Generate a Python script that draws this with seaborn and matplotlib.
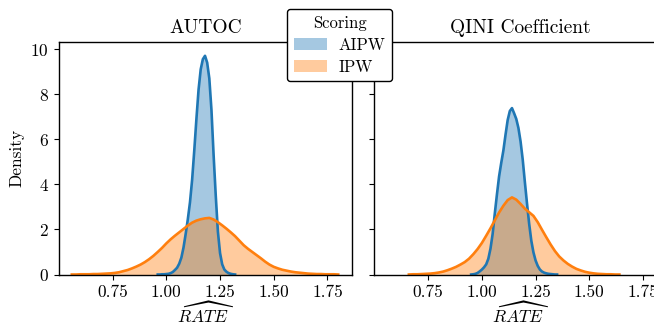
import numpy as np
import matplotlib
matplotlib.use("Agg")
import matplotlib.pyplot as plt
import seaborn as sns
from matplotlib.patches import Patch

plt.rcParams['font.family'] = ['cmr10', 'DejaVu Serif']
plt.rcParams['mathtext.fontset'] = 'cm'
plt.rcParams['axes.formatter.use_mathtext'] = True
plt.rcParams['font.size'] = 12.5

# ====================== DATA (density) ======================
panels = ['AUTOC', 'QINI Coefficient']
scorings = ['AIPW', 'IPW']

# AUTOC / AIPW, x from 0.96 to 1.32 step 0.01
autoc_aipw_start, autoc_aipw_step = 0.96, 0.01
autoc_aipw = [0.00, 0.00, 0.01, 0.01, 0.02, 0.03, 0.06, 0.11, 0.20, 0.30,
              0.48, 0.75, 1.20, 1.80, 2.45, 3.20, 4.20, 5.50, 6.90, 8.20,
              9.10, 9.55, 9.70, 9.40, 8.70, 7.30, 5.30, 3.50, 1.90, 0.95,
              0.45, 0.22, 0.12, 0.06, 0.03, 0.01, 0.00]

# AUTOC / IPW, x from 0.56 to 1.80 step 0.02
autoc_ipw_start, autoc_ipw_step = 0.56, 0.02
autoc_ipw = [0.00, 0.00, 0.01, 0.01, 0.01, 0.02, 0.02, 0.03, 0.04, 0.05,
             0.07, 0.10, 0.15, 0.20, 0.27, 0.35, 0.44, 0.55, 0.68, 0.83,
             1.00, 1.18, 1.38, 1.56, 1.72, 1.87, 2.02, 2.17, 2.30, 2.39,
             2.45, 2.49, 2.51, 2.44, 2.32, 2.18, 2.03, 1.87, 1.70, 1.50,
             1.30, 1.14, 1.00, 0.86, 0.72, 0.57, 0.44, 0.34, 0.27, 0.21,
             0.17, 0.13, 0.10, 0.08, 0.06, 0.04, 0.03, 0.02, 0.02, 0.01,
             0.01, 0.01, 0.00]

# QINI / AIPW, x from 0.95 to 1.35 step 0.01
qini_aipw_start, qini_aipw_step = 0.95, 0.01
qini_aipw = [0.00, 0.01, 0.03, 0.07, 0.14, 0.22, 0.32, 0.45, 0.70, 1.15,
             1.80, 2.70, 3.55, 4.35, 4.95, 5.50, 6.20, 6.85, 7.25, 7.38,
             7.15, 6.90, 6.50, 5.90, 5.10, 4.10, 3.15, 2.25, 1.50, 0.98,
             0.62, 0.38, 0.22, 0.13, 0.08, 0.05, 0.03, 0.02, 0.01, 0.00,
             0.00]

# QINI / IPW, x from 0.66 to 1.64 step 0.02
qini_ipw_start, qini_ipw_step = 0.66, 0.02
qini_ipw = [0.00, 0.01, 0.01, 0.02, 0.03, 0.04, 0.06, 0.09, 0.13, 0.19,
            0.26, 0.34, 0.44, 0.55, 0.70, 0.90, 1.13, 1.40, 1.72, 2.05,
            2.40, 2.75, 3.05, 3.30, 3.42, 3.32, 3.13, 2.92, 2.76, 2.60,
            2.32, 1.98, 1.65, 1.33, 1.04, 0.80, 0.62, 0.47, 0.35, 0.25,
            0.18, 0.12, 0.08, 0.05, 0.03, 0.02, 0.01, 0.01, 0.00, 0.00]

x_ticks = [0.75, 1.00, 1.25, 1.50, 1.75]
y_ticks = [0, 2, 4, 6, 8, 10]

colors = {'AIPW': '#1f77b4', 'IPW': '#ff7f0e'}

series = {
    ('AUTOC', 'AIPW'): (autoc_aipw_start, autoc_aipw_step, autoc_aipw),
    ('AUTOC', 'IPW'): (autoc_ipw_start, autoc_ipw_step, autoc_ipw),
    ('QINI Coefficient', 'AIPW'): (qini_aipw_start, qini_aipw_step, qini_aipw),
    ('QINI Coefficient', 'IPW'): (qini_ipw_start, qini_ipw_step, qini_ipw),
}


def support(start, step, n):
    return np.round(start + step * np.arange(n), 3)


fig = plt.figure(figsize=(6.54, 3.28), dpi=100)
ax1 = fig.add_axes([0.0898, 0.1631, 0.448, 0.708])
ax2 = fig.add_axes([0.5723, 0.1631, 0.448, 0.708], sharex=ax1, sharey=ax1)

for ax, panel in zip([ax1, ax2], panels):
    # filled densities first, then the curves on top
    for s in scorings:
        start, step, dens = series[(panel, s)]
        grid = support(start, step, len(dens))
        sns.histplot(x=grid, weights=dens, bins=len(grid),
                     binrange=(grid[0] - step / 2, grid[-1] + step / 2),
                     element='poly', fill=True, stat='count',
                     color=colors[s], alpha=0.4, linewidth=0, ax=ax)
    for s in scorings:
        start, step, dens = series[(panel, s)]
        grid = support(start, step, len(dens))
        sns.lineplot(x=grid, y=dens, color=colors[s], lw=1.9, ax=ax)
    ax.set_title(panel, fontsize=14, pad=7)
    ax.set_xlabel(r'$\widehat{RATE}$', fontsize=12.5, labelpad=1)
    for sp in ax.spines.values():
        sp.set_visible(True)
        sp.set_linewidth(1.0)
        sp.set_zorder(5)

ax1.set_xlim(0.499, 1.863)
ax1.set_ylim(0, 10.3)
ax1.set_xticks(x_ticks)
ax1.set_xticklabels([f'{t:.2f}' for t in x_ticks])
ax1.set_yticks(y_ticks)
ax1.set_ylabel('Density', fontsize=12.5)
ax2.set_ylabel('')
ax2.tick_params(labelleft=False)

handles = [Patch(facecolor=colors[s], alpha=0.4, edgecolor='none', label=s) for s in scorings]
leg = fig.legend(handles=handles, title='Scoring', fontsize=12,
                 loc='upper left', bbox_to_anchor=(0.439, 0.973), borderaxespad=0,
                 labelspacing=0.4, borderpad=0.4, handletextpad=0.7,
                 frameon=True, framealpha=1, edgecolor='black', fancybox=True)
leg.get_title().set_fontsize(12)

plt.savefig('out.png', dpi=100)
